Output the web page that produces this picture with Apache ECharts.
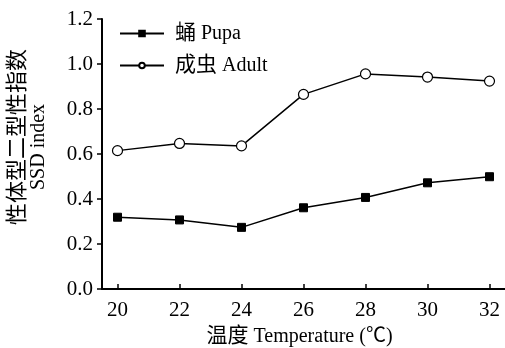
<!DOCTYPE html>
<html><head><meta charset="utf-8">
<script src="https://cdn.jsdelivr.net/npm/echarts@6/dist/echarts.min.js"></script>
<style>html,body{margin:0;padding:0;background:#fff}#c{width:505px;height:348px}</style>
</head><body><div id="c"></div>
<script>
var temperatures = [20, 22, 24, 26, 28, 30, 32];
var pupa = [0.319, 0.307, 0.274, 0.361, 0.407, 0.472, 0.499];
var adult = [0.615, 0.647, 0.636, 0.865, 0.956, 0.942, 0.924];
var yTicks = [0, 0.2, 0.4, 0.6, 0.8, 1.0, 1.2];
var seriesCn = ['蛹', '成虫'];
var seriesEn = ['Pupa', 'Adult'];
var seriesNames = ['蛹 Pupa', '成虫 Adult'];
var xNameCn = '温度', xNameEn = 'Temperature (℃)';
var yNameCn = '性体型二型性指数', yNameEn = 'SSD index';

var FONT = '"Liberation Serif", "Noto Sans CJK SC", serif';
function pairs(vals){ return temperatures.map(function(t,i){ return [t, vals[i]]; }); }
var rich = {
  cn: {fontFamily: FONT, fontSize: 21, color: '#000'},
  en: {fontFamily: FONT, fontSize: 20, color: '#000'}
};

var chart = echarts.init(document.getElementById('c'), null, {renderer:'canvas'});
chart.setOption({
  animation: false,
  backgroundColor: '#fff',
  textStyle: {fontFamily: FONT, color: '#000'},
  grid: {left: 102, right: 0, top: 19, bottom: 59, containLabel: false, outerBoundsMode: 'none'},
  legend: {
    left: 119, top: 23, orient: 'vertical', padding: 0,
    itemWidth: 44, itemHeight: 7, itemGap: 11,
    textStyle: {fontFamily: FONT, fontSize: 20, color: '#000', padding: [0,0,0,6], rich: rich},
    formatter: function(n){ var i = seriesNames.indexOf(n); return '{cn|' + seriesCn[i] + '} {en|' + seriesEn[i] + '}'; },
    data: seriesNames
  },
  xAxis: {
    type: 'value', min: 19.5, max: 32.5,
    name: '{cn|' + xNameCn + '} {en|' + xNameEn + '}', nameLocation: 'middle', nameGap: 27,
    nameTextStyle: {fontFamily: FONT, fontSize: 20, color: '#000', rich: rich, padding: [0,8,0,0]},
    axisLine: {show: true, lineStyle: {color: '#000', width: 2}},
    axisTick: {show: true, inside: true, length: 5, customValues: temperatures, lineStyle: {color: '#000', width: 1.5}},
    axisLabel: {customValues: temperatures, fontFamily: FONT, fontSize: 21, color: '#000', margin: 11},
    splitLine: {show: false}
  },
  yAxis: {
    type: 'value', min: 0, max: 1.2, interval: 0.2,
    name: '{cnp|' + yNameCn + '}\n{enp|' + yNameEn + '}', nameLocation: 'middle', nameGap: 53, nameRotate: 90,
    nameTextStyle: {fontFamily: FONT, fontSize: 20, color: '#000', rich: {
      cnp: {fontFamily: FONT, fontSize: 22, color: '#000', lineHeight: 21, padding: [0,0,0,34]},
      enp: {fontFamily: FONT, fontSize: 20, color: '#000', lineHeight: 20, padding: [0,0,0,14]}
    }},
    axisLine: {show: true, lineStyle: {color: '#000', width: 2}},
    axisTick: {show: true, inside: false, length: 5, lineStyle: {color: '#000', width: 1.5}},
    axisLabel: {fontFamily: FONT, fontSize: 21, color: '#000', margin: 9,
      formatter: function(v){ return v.toFixed(1); }},
    splitLine: {show: false}
  },
  series: [
    {name: seriesNames[0], type: 'line', data: pairs(pupa),
     symbol: 'rect', symbolSize: 8,
     lineStyle: {color: '#000', width: 1.5},
     itemStyle: {color: '#000', borderColor: '#000', borderWidth: 1}},
    {name: seriesNames[1], type: 'line', data: pairs(adult),
     symbol: 'circle', symbolSize: 10,
     lineStyle: {color: '#000', width: 1.5},
     itemStyle: {color: '#fff', borderColor: '#000', borderWidth: 1.2}}
  ]
});
</script></body></html>
